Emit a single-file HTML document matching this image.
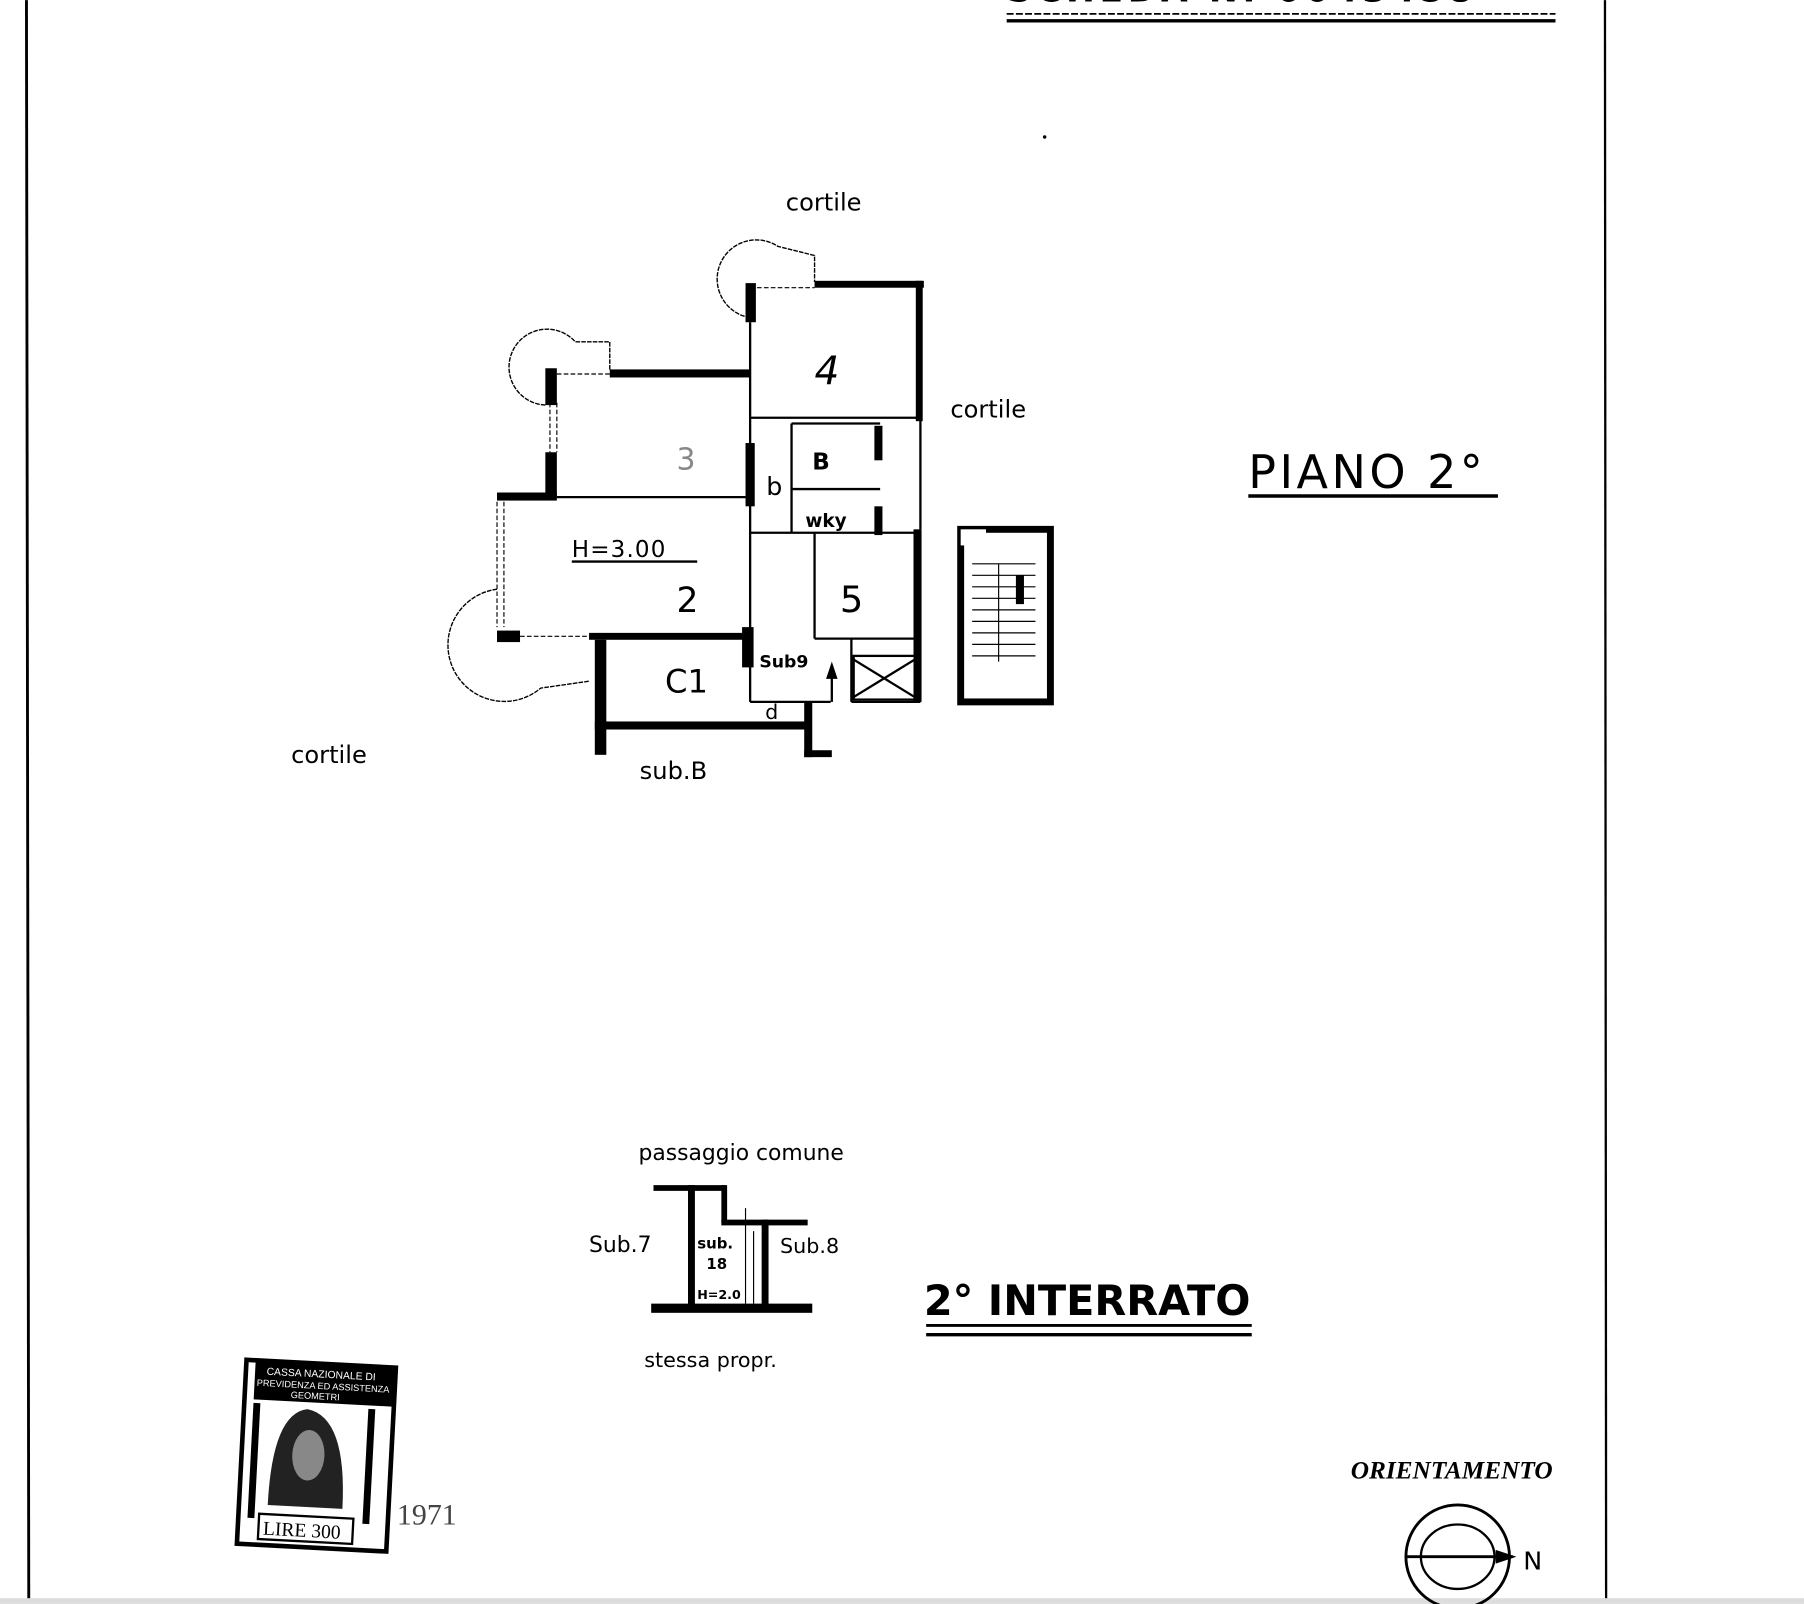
<!DOCTYPE html>
<html><head><meta charset="utf-8"><style>
html,body{margin:0;padding:0;background:#fff;}
svg{display:block;}
.h{font-family:"DejaVu Sans","Liberation Sans",sans-serif;fill:#000;}
</style></head><body>
<svg width="1804" height="1604" viewBox="0 0 1568 1394" xmlns="http://www.w3.org/2000/svg">
<rect width="1568" height="1394" fill="#fff"/>
<line x1="23" y1="0" x2="25" y2="1390" stroke="#000" stroke-width="2.5"/>
<line x1="1395" y1="0" x2="1396" y2="1390" stroke="#000" stroke-width="2"/>
<rect x="0" y="1389" width="1568" height="5" fill="#ddd"/>
<text x="875" y="1" class="h" font-size="30" font-weight="bold" letter-spacing="4">SCHEDA  N. 0043458</text>
<line x1="875" y1="12" x2="1352" y2="12" stroke="#000" stroke-width="1.5" stroke-dasharray="6 2"/>
<line x1="875" y1="18" x2="1352" y2="18" stroke="#000" stroke-width="3"/>
<circle cx="908" cy="119" r="1.5"/>

<g class="h" font-size="21">
<text x="683" y="183">cortile</text>
<text x="826" y="363">cortile</text>
<text x="253" y="663">cortile</text>
<text x="556" y="677">sub.B</text>
<text x="555" y="1008" font-size="19">passaggio comune</text>
<text x="512" y="1088" font-size="19">Sub.7</text>
<text x="678" y="1089" font-size="18">Sub.8</text>
<text x="560" y="1188" font-size="18">stessa propr.</text>
</g>
<text x="1085" y="424" class="h" font-size="40" letter-spacing="3">PIANO 2°</text>
<line x1="1085" y1="431" x2="1302" y2="431" stroke="#000" stroke-width="3"/>
<text x="803" y="1143" class="h" font-size="36" font-weight="bold">2° INTERRATO</text>
<line x1="805" y1="1152" x2="1088" y2="1152" stroke="#000" stroke-width="2.5"/>
<line x1="805" y1="1160" x2="1088" y2="1160" stroke="#000" stroke-width="3"/>
<text x="1174" y="1285" font-family="Liberation Serif,serif" font-style="italic" font-weight="bold" font-size="22">ORIENTAMENTO</text>
<circle cx="1267" cy="1353" r="45" fill="none" stroke="#000" stroke-width="2.5"/>
<ellipse cx="1267" cy="1353" rx="32" ry="28" fill="none" stroke="#000" stroke-width="2"/>
<line x1="1222" y1="1353" x2="1315" y2="1353" stroke="#000" stroke-width="2.5"/>
<polygon points="1300,1347 1318,1353 1300,1359" fill="#000"/>
<text x="1324" y="1364" class="h" font-size="22">N</text>

<g fill="none" stroke="#000">
<path d="M652 276 A34 34 0 1 1 676 214 L708 222 L708 245" stroke-width="1.2" stroke-dasharray="4 1"/>
<path d="M474 352 A33 33 0 1 1 500 297 L530 297 L530 322" stroke-width="1.2" stroke-dasharray="4 1"/>
<path d="M432 512 A49 49 0 1 0 470 598 L512 592" stroke-width="1.2" stroke-dasharray="4 1"/>
<g stroke-width="2">
<line x1="652" y1="280" x2="652" y2="610"/>
<line x1="652" y1="363" x2="800" y2="363"/>
<line x1="688" y1="368" x2="688" y2="463"/>
<line x1="688" y1="425" x2="765" y2="425"/>
<line x1="688" y1="368" x2="765" y2="368"/>
<line x1="652" y1="463" x2="797" y2="463"/>
<line x1="708" y1="463" x2="708" y2="555"/>
<line x1="708" y1="555" x2="797" y2="555"/>
<line x1="740" y1="555" x2="740" y2="610"/>
<line x1="740" y1="610" x2="800" y2="610"/>
<line x1="800" y1="365" x2="800" y2="460"/>
<line x1="652" y1="610" x2="722" y2="610"/>
<line x1="484" y1="432" x2="648" y2="432"/>
<line x1="740" y1="572" x2="797" y2="607"/>
<line x1="797" y1="572" x2="740" y2="607"/>
<rect x="742" y="570" width="55" height="38"/>
</g>
<g stroke-width="1" stroke-dasharray="4 2">
<line x1="432" y1="436" x2="432" y2="545"/>
<line x1="438" y1="436" x2="438" y2="545"/>
<line x1="452" y1="553" x2="512" y2="553"/>
<line x1="484" y1="350" x2="484" y2="393"/>
<line x1="478" y1="350" x2="478" y2="393"/>
<line x1="652" y1="250" x2="708" y2="250"/>
<line x1="484" y1="325" x2="530" y2="325"/>
</g>
</g>
<g fill="#000">
<rect x="708" y="244" width="95" height="6"/>
<rect x="796" y="244" width="6" height="122"/>
<rect x="648" y="246" width="9" height="34"/>
<rect x="530" y="321" width="122" height="7"/>
<rect x="474" y="320" width="10" height="32"/>
<rect x="474" y="393" width="10" height="40"/>
<rect x="432" y="428" width="52" height="7"/>
<rect x="648" y="385" width="8" height="55"/>
<rect x="760" y="370" width="7" height="30"/>
<rect x="760" y="440" width="7" height="25"/>
<rect x="794" y="460" width="7" height="150"/>
<rect x="432" y="548" width="20" height="10"/>
<rect x="512" y="550" width="138" height="6"/>
<rect x="645" y="545" width="10" height="35"/>
<rect x="517" y="556" width="10" height="100"/>
<rect x="517" y="627" width="188" height="7"/>
<rect x="699" y="610" width="7" height="48"/>
<rect x="699" y="652" width="24" height="6"/>
<rect x="835" y="460" width="78" height="150" fill="none" stroke="#000" stroke-width="6"/>
<rect x="835" y="460" width="22" height="14" fill="#fff"/>
</g>
<g stroke="#000" stroke-width="1" fill="none">
<path d="M845 490 H900 M845 500 H900 M845 510 H900 M845 520 H900 M845 530 H900 M845 540 H900 M845 550 H900 M845 560 H900 M845 570 H900 M868 490 V575"/>
</g>
<rect x="883" y="500" width="7" height="25" fill="#000"/>
<g class="h">
<text x="497" y="484" font-size="20" letter-spacing="1">H=3.00</text>
<line x1="497" y1="488" x2="606" y2="488" stroke="#000" stroke-width="2"/>
<text x="708" y="334" font-size="34" font-style="italic">4</text>
<text x="588" y="408" font-size="26" fill="#888">3</text>
<text x="588" y="532" font-size="30">2</text>
<text x="730" y="532" font-size="32">5</text>
<text x="578" y="602" font-size="28">C1</text>
<text x="706" y="408" font-size="20" font-weight="bold">B</text>
<text x="666" y="430" font-size="22">b</text>
<text x="700" y="458" font-size="16" font-weight="bold">wky</text>
<text x="660" y="580" font-size="15" font-weight="bold">Sub9</text>
<text x="665" y="625" font-size="18">d</text>
</g>
<polygon points="718,590 723,575 728,590" fill="#000"/>
<line x1="723" y1="580" x2="723" y2="610" stroke="#000" stroke-width="2"/>

<g fill="#000">
<rect x="568" y="1030" width="62" height="5"/>
<rect x="598" y="1030" width="6" height="106"/>
<rect x="627" y="1030" width="5" height="33"/>
<rect x="627" y="1060" width="75" height="5"/>
<rect x="662" y="1060" width="6" height="76"/>
<rect x="566" y="1133" width="140" height="8"/>
</g>
<g class="h" font-size="13" font-weight="bold">
<text x="606" y="1085">sub.</text>
<text x="614" y="1103">18</text>
<text x="606" y="1129" font-size="11">H=2.0</text>
</g>
<line x1="648" y1="1050" x2="648" y2="1133" stroke="#000" stroke-width="1"/>
<line x1="655" y1="1070" x2="655" y2="1133" stroke="#000" stroke-width="1"/>

<g transform="rotate(3 272 1265)">
<rect x="210" y="1185" width="130" height="160" fill="#fff" stroke="#000" stroke-width="4"/>
<rect x="218" y="1185" width="122" height="34" fill="#000"/>
<text x="228" y="1197" font-family="Liberation Sans,sans-serif" font-size="9" fill="#fff">CASSA NAZIONALE DI</text>
<text x="220" y="1207" font-family="Liberation Sans,sans-serif" font-size="8" fill="#fff">PREVIDENZA ED ASSISTENZA</text>
<text x="250" y="1216" font-family="Liberation Sans,sans-serif" font-size="8" fill="#fff">GEOMETRI</text>
<path d="M235 1310 Q235 1230 265 1225 Q300 1230 300 1310 Z" fill="#222"/>
<ellipse cx="268" cy="1265" rx="14" ry="22" fill="#888"/>
<rect x="218" y="1222" width="6" height="100" fill="#000"/>
<rect x="318" y="1222" width="6" height="100" fill="#000"/>
<rect x="228" y="1318" width="82" height="22" fill="#fff" stroke="#000" stroke-width="2"/>
<text x="232" y="1336" font-family="Liberation Serif,serif" font-size="17">LIRE 300</text>
</g>
<text x="345" y="1325" font-family="Liberation Serif,serif" font-size="26" fill="#444">1971</text>
</svg>
</body></html>
